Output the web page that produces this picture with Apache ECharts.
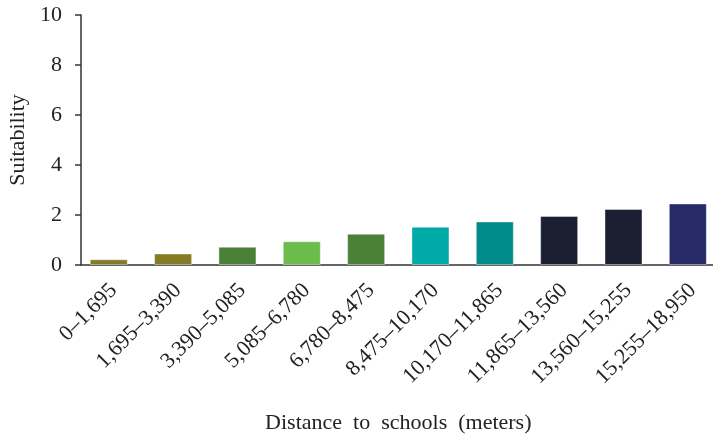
<!DOCTYPE html>
<html><head><meta charset="utf-8">
<script src="https://cdn.jsdelivr.net/npm/echarts@6/dist/echarts.min.js"></script>
<style>html,body{margin:0;padding:0;background:#fff}#c{width:713px;height:436px}</style>
</head><body><div id="c"></div>
<script>
const categories = ['0–1,695','1,695–3,390','3,390–5,085','5,085–6,780','6,780–8,475','8,475–10,170','10,170–11,865','11,865–13,560','13,560–15,255','15,255–18,950'];
const values = [0.23, 0.46, 0.73, 0.95, 1.25, 1.53, 1.74, 1.96, 2.24, 2.46];
const colors = ['#857A26','#877A25','#4A8038','#6CBC4C','#4A8038','#00AAA6','#008C88','#1A1F32','#1A1F32','#262B68'];
const yTicks = [0, 2, 4, 6, 8, 10];
const xName = 'Distance  to  schools  (meters)';
const yName = 'Suitability';

const FONT = '"Liberation Serif", "Times New Roman", serif';
const chart = echarts.init(document.getElementById('c'));
chart.setOption({
  animation: false,
  backgroundColor: '#fff',
  grid: [
    {left: 76.6, top: 15, width: 643.4, height: 250, outerBoundsMode: 'none', containLabel: false},
    {left: 81, top: 15, right: 0, height: 250, outerBoundsMode: 'none', containLabel: false}
  ],
  xAxis: [
    {
      type: 'category', gridIndex: 0, data: categories,
      axisLine: {show: false}, axisTick: {show: false},
      axisLabel: {rotate: 45, margin: 3, verticalAlign: 'top', padding: [6, 10, 0, 0],
        fontFamily: FONT, fontSize: 22, color: '#222', interval: 0},
      name: xName, nameLocation: 'middle', nameGap: 147,
      nameTextStyle: {fontFamily: FONT, fontSize: 22, color: '#222'}
    },
    {
      type: 'value', gridIndex: 1, min: 0, max: 1,
      axisLine: {show: true, lineStyle: {color: '#333', width: 1.5}},
      axisTick: {show: false}, axisLabel: {show: false}, splitLine: {show: false}
    }
  ],
  yAxis: [
    {
      type: 'value', gridIndex: 0, min: yTicks[0], max: yTicks[yTicks.length-1], interval: 2,
      offset: -4.4,
      axisLine: {show: true, lineStyle: {color: '#333', width: 1.5}},
      axisTick: {show: true, length: 6, lineStyle: {color: '#333', width: 1.5}},
      axisLabel: {margin: 19, fontFamily: FONT, fontSize: 22, color: '#222'},
      splitLine: {show: false},
      name: yName, nameLocation: 'middle', nameGap: 47,
      nameTextStyle: {fontFamily: FONT, fontSize: 22, color: '#222'}
    },
    {type: 'value', gridIndex: 1, show: false, min: 0, max: 1}
  ],
  series: [{
    type: 'bar', xAxisIndex: 0, yAxisIndex: 0, barWidth: 38,
    data: values.map((v, i) => ({value: v, itemStyle: {color: colors[i], borderColor: 'rgba(255,255,255,0.4)', borderWidth: 1}}))
  }]
});
</script></body></html>
